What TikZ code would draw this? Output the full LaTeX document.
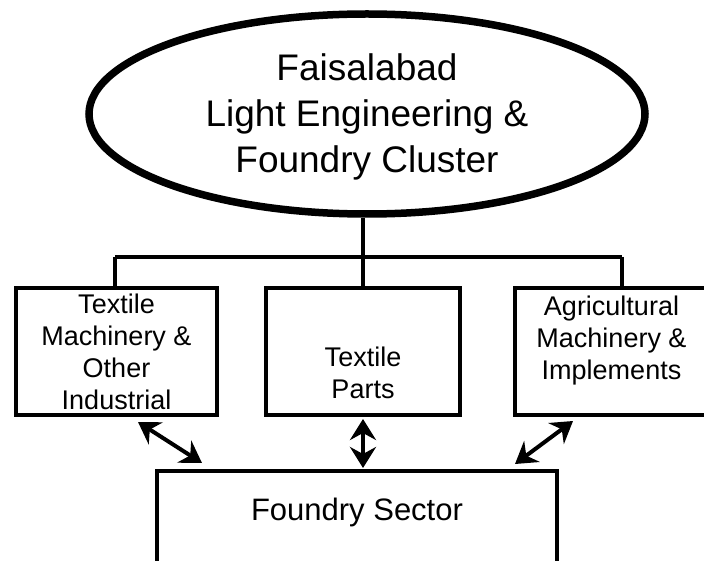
\documentclass[tikz,border=0pt]{standalone}
\usepackage{fontspec}
\setmainfont{Liberation Sans}
\usetikzlibrary{arrows.meta,shapes.geometric,calc}
\begin{document}
\begin{tikzpicture}[x=1pt,y=-1pt,
  ellbox/.style={draw, ellipse, line width=7.5pt, minimum width=556pt, minimum height=200pt, inner sep=0pt},
  catbox/.style={draw, rectangle, line width=4pt, minimum height=127pt, inner sep=0pt},
  boxtext/.style={align=center, font=\fontsize{27}{32}\selectfont, inner sep=0pt},
  conn/.style={line width=4pt},
  biarrow/.style={line width=4pt, {Stealth[length=21pt,width=26pt,inset=7pt]}-{Stealth[length=21pt,width=26pt,inset=7pt]}}
]
\useasboundingbox (0,0) rectangle (704,561);
\clip (0,0) rectangle (704,561);
\fill[white] (0,0) rectangle (704,561);

\node[ellbox] (ell) at (367,114) {};
\node[align=center, font=\fontsize{37}{46}\selectfont, inner sep=0pt] (etext) at ([yshift=-3pt]ell.center) {Faisalabad\\Light Engineering \&\\Foundry Cluster};

\node[catbox, minimum width=201pt] (left) at (116.5,351.5) {};
\node[catbox, minimum width=194pt] (mid) at (363,351.5) {};
\node[catbox, minimum width=193pt] (right) at (611.5,351.5) {};
\node[catbox, minimum width=400pt, minimum height=129pt] (bot) at (357,535.5) {};

\node[boxtext] (ltext) at (left.center) {Textile\\Machinery \&\\Other\\Industrial};
\node[boxtext] (mtext) at ([yshift=-21pt]mid.center) {Textile\\Parts};
\node[boxtext] (rtext) at ([yshift=11pt]right.center) {Agricultural\\Machinery \&\\Implements};
\node[font=\fontsize{31}{36}\selectfont, inner sep=0pt] (btext) at (357,512) {Foundry Sector};

\coordinate (busL) at (115,257);
\coordinate (busR) at (622,257);
\draw[conn] (ell.south -| mid.north) -- (mid.north);
\draw[conn] (busL) -- (busR);
\draw[conn] (busL) -- (busL |- left.north);
\draw[conn] (busR) -- (busR |- right.north);

\draw[biarrow] ([xshift=21.5pt,yshift=-5pt]left.south) -- ([xshift=-155pt,yshift=6pt]bot.north);
\draw[biarrow] ([yshift=-2pt]mid.south) -- ([xshift=6pt,yshift=1pt]bot.north);
\draw[biarrow] ([xshift=-38.5pt,yshift=-4pt]right.south) -- ([xshift=158pt,yshift=5pt]bot.north);
\end{tikzpicture}
\end{document}
